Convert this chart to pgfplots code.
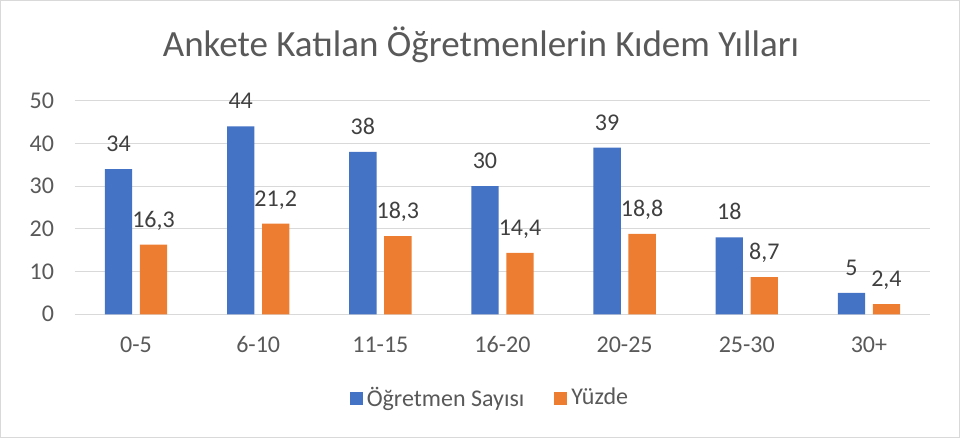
\documentclass[border=0pt]{standalone}
\usepackage{fontspec}
\setmainfont{Carlito}
\usepackage{pgfplots}
\pgfplotsset{compat=1.18}
\definecolor{XBlue}{HTML}{4472C4}
\definecolor{XOrange}{HTML}{ED7D31}
\definecolor{XText}{HTML}{595959}
\definecolor{XLabel}{HTML}{404040}
\definecolor{XGrid}{HTML}{D9D9D9}
\begin{document}
\begin{tikzpicture}[x=0.5pt,y=0.5pt]
  \useasboundingbox (0,0) rectangle (960,438);
  \draw[XGrid,line width=0.6pt] (0.6,0.6) rectangle (959.4,437.4);
  \node[XText,font=\fontsize{18.5}{22}\selectfont] at (481,393) {Ankete Katılan Öğretmenlerin Kıdem Yılları};
  \begin{axis}[
    at={(37.5pt,61.85pt)},anchor=south west,
    scale only axis,width=427.5pt,height=106.8pt,
    ybar=3.85pt,bar width=13.65pt,
    xmin=-0.5,xmax=6.5,ymin=0,ymax=50,
    xtick=data,
    xticklabels={0-5,6-10,11-15,16-20,20-25,25-30,30+},
    ytick={0,10,20,30,40,50},
    major tick length=0pt,
    ymajorgrids,grid style={XGrid,line width=0.6pt},
    axis y line*=left,
    y axis line style={draw=none},
    axis x line*=bottom,
    x axis line style={XGrid,line width=0.6pt,-},
    /pgf/number format/assume math mode=true,
    /pgf/number format/use comma,
    tick label style={font=\fontsize{12}{14}\selectfont,text=XText},
    xticklabel style={anchor=base,yshift=-19pt},
    yticklabel style={anchor=east,xshift=-7pt},
    nodes near coords,
    every node near coord/.append style={font=\fontsize{12}{14}\selectfont,text=XLabel,anchor=base,yshift=8.8pt,inner sep=0pt},
    clip=false,
    legend columns=2,
    legend style={draw=none,at={(0.4865,-0.392)},anchor=center,
      font=\fontsize{12}{14}\selectfont,text=XText,
      /tikz/every even column/.append style={column sep=13pt}},
    legend image code/.code={\fill[#1] (0pt,-3.25pt) rectangle (6.5pt,3.25pt);},
  ]
    \addplot[fill=XBlue,draw=none] coordinates {(0,34) (1,44) (2,38) (3,30) (4,39) (5,18) (6,5)};
    \addlegendentry{Öğretmen Sayısı}
    \addplot[fill=XOrange,draw=none] coordinates {(0,16.3) (1,21.2) (2,18.3) (3,14.4) (4,18.8) (5,8.7) (6,2.4)};
    \addlegendentry{Yüzde}
  \end{axis}
\end{tikzpicture}
\end{document}
